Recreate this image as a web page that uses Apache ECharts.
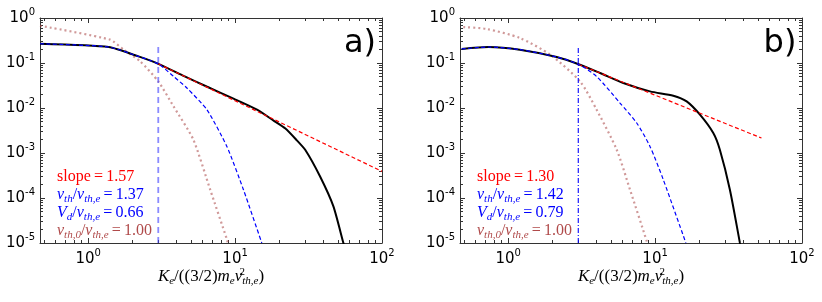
<!DOCTYPE html>
<html><head><meta charset="utf-8">
<script src="https://cdn.jsdelivr.net/npm/echarts@6/dist/echarts.min.js"></script>
<style>html,body{margin:0;padding:0;background:#fff;}#c{width:822px;height:302px;}</style>
</head><body><div id="c"></div>
<script>
// ---- data ----
const xRange = [0.47, 100];
const yRange = [1e-5, 1];
const panelTags = ['a)', 'b)'];

// panel a
const aBlack = [[0.47,0.268],[1.38,0.227],[2.2,0.14],[3.0,0.096],[4.5,0.051],[6.4,0.03],[9.76,0.0161],[14.1,0.00917],[18.2,0.0053],[22,0.0035],[26,0.002],[30,0.00118],[37.9,3.0e-4],[46.7,6.5e-5],[54.6,1e-5],[58,5e-6]];
const aBlue = [[0.47,0.268],[1.38,0.227],[2.2,0.14],[3.0,0.096],[3.81,0.0504],[4.7,0.0278],[6.43,0.00917],[8.79,0.0014],[11.4,1.53e-4],[15.2,1e-5]];
const aBrown = [[0.47,0.674],[1.41,0.33],[1.74,0.198],[2.26,0.109],[3.0,0.039],[3.81,0.0109],[5.2,0.00198],[6.77,1.53e-4],[8.8,1.2e-5],[9.0,9e-6]];
const aRed = [[3.0,0.096],[100,3.9e-4]];
const aVert = [[3,1e-5],[3,0.234]];
const aText = ['1.57','1.37','0.66','1.00'];

// panel b
const bBlack = [[0.483,0.205],[0.733,0.227],[1.2,0.198],[2.14,0.136],[3.08,0.0917],[4.22,0.06],[6.08,0.036],[9.23,0.0234],[13.3,0.0188],[16.4,0.014],[20.2,0.0071],[24.9,0.00278],[27.6,0.00118],[32.3,1.53e-4],[37.8,1e-5],[39,6e-6]];
const bBlue = [[0.483,0.205],[0.733,0.227],[1.2,0.198],[2.14,0.136],[3.0,0.094],[4.0,0.05],[5.77,0.0129],[7.5,0.00464],[9.23,0.0014],[11.35,2.6e-4],[16.2,1e-5]];
const bBrown = [[0.495,0.63],[0.714,0.57],[1.2,0.36],[1.93,0.153],[3.08,0.039],[4.0,0.00917],[5.48,0.00118],[6.75,1.53e-4],[8.77,1.1e-5],[9.0,8e-6]];
const bRed = [[3.0,0.094],[53,0.00215]];
const bVert = [[3,1e-5],[3,0.234]];
const bText = ['1.30','1.42','0.79','1.00'];

// ---- styling ----
const RED = '#ff0000', BLUE = '#0000ff', BROWN_TXT = '#b04a4a', BROWN_LINE = 'rgba(170,70,70,0.55)';
const grids = [{left:40, top:18, width:342, height:225}, {left:460, top:18, width:342, height:225}];
const axisColor = '#333';

function powLabel(v) {
  const l = Math.log10(v), e = Math.round(l);
  if (Math.abs(l - e) > 1e-6) return '';
  return '{b|10}{s|' + e + '}';
}
const labelRich = {
  b: {fontFamily:'DejaVu Sans', fontSize:15, color:'#000'},
  s: {fontFamily:'DejaVu Sans', fontSize:10, color:'#000', padding:[0,0,12,0]}
};

function mkAxis(dim, g, pos, showLabel) {
  const r = dim === 'x' ? xRange : yRange;
  return {
    gridIndex: g, type: 'log', logBase: 10, min: r[0], max: r[1], position: pos,
    axisLine: {show: true, onZero: false, lineStyle: {color: axisColor, width: 1}},
    axisTick: {show: true, inside: true, length: 5, lineStyle: {color: axisColor, width: 1}},
    minorTick: {show: true, splitNumber: 9, length: 3, lineStyle: {color: axisColor, width: 1}},
    splitLine: {show: false}, minorSplitLine: {show: false},
    axisLabel: {show: showLabel, formatter: powLabel, rich: labelRich, margin: 5,
                showMinLabel: true, showMaxLabel: true}
  };
}

const xAxes = [], yAxes = [];
for (let g = 0; g < 2; g++) {
  xAxes.push(mkAxis('x', g, 'bottom', true));
  xAxes.push(mkAxis('x', g, 'top', false));
  yAxes.push(mkAxis('y', g, 'left', true));
  yAxes.push(mkAxis('y', g, 'right', false));
}

function line(data, g, color, width, type, z, smooth) {
  return {type: 'line', data: data, xAxisIndex: g * 2, yAxisIndex: g * 2, symbol: 'none',
          clip: true, smooth: smooth || false, z: z || 2, silent: true, animation: false,
          lineStyle: {color: color, width: width, type: type}};
}

const series = [
  line(aBrown, 0, BROWN_LINE, 2.2, [2, 3], 2, 0.2),
  line(aVert, 0, 'rgba(60,60,255,0.6)', 1.8, [6, 4], 2),
  line(aBlack, 0, '#000', 2, 'solid', 3, 0.2),
  line(aRed, 0, RED, 1.2, [4, 2.5], 4),
  line(aBlue, 0, BLUE, 1.2, [4, 2.5], 4, 0.2),
  line(bBrown, 1, BROWN_LINE, 2.2, [2, 3], 2, 0.25),
  line(bVert, 1, BLUE, 1.1, [5, 2, 1, 2], 2),
  line(bBlack, 1, '#000', 2, 'solid', 3, 0.25),
  line(bRed, 1, RED, 1.2, [4, 2.5], 4),
  line(bBlue, 1, BLUE, 1.2, [4, 2.5], 4, 0.25)
];

const serif = 'Liberation Serif';
const txtRich = function (color, size) {
  const s = size || 16;
  return {
    r: {fontFamily: serif, fontSize: s, fill: color},
    i: {fontFamily: serif, fontStyle: 'italic', fontSize: s, fill: color},
    sub: {fontFamily: serif, fontStyle: 'italic', fontSize: 11, fill: color, padding: [8, 0, 0, 0]},
    sup: {fontFamily: serif, fontSize: 11, fill: color, padding: [0, 0, 10, 0], width: 0}
  };
};

const graphics = [];
const ysText = [177, 195, 213, 231];
[aText, bText].forEach(function (t, g) {
  const x0 = grids[g].left + 17;
  const lines = [
    ['{r|slope\u2009=\u2009' + t[0] + '}', RED],
    ['{i|v}{sub|th}{r|/}{i|v}{sub|th,e}{r|\u2009=\u2009' + t[1] + '}', BLUE],
    ['{i|V}{sub|d}{r|/}{i|v}{sub|th,e}{r|\u2009=\u2009' + t[2] + '}', BLUE],
    ['{i|v}{sub|th,0}{r|/}{i|v}{sub|th,e}{r|\u2009=\u2009' + t[3] + '}', BROWN_TXT]
  ];
  lines.forEach(function (ln, k) {
    graphics.push({type: 'text', x: x0, y: ysText[k], silent: true,
      style: {text: ln[0], rich: txtRich(ln[1]), fill: ln[1], align: 'left', verticalAlign: 'middle'}});
  });
  graphics.push({type: 'text', x: grids[g].left + 320, y: 44, silent: true,
    style: {text: panelTags[g], fontFamily: 'DejaVu Sans', fontSize: 32, fill: '#000', align: 'center', verticalAlign: 'middle'}});
  graphics.push({type: 'text', x: grids[g].left + 171, y: 277, silent: true,
    style: {text: '{i|K}{sub|e}{r|/((3/2)}{i|m}{sub|e}{i|v}{sup|2}{sub|th,e}{r|)}', rich: txtRich('#000', 17), fill: '#000',
            align: 'center', verticalAlign: 'middle'}});
});

const chart = echarts.init(document.getElementById('c'), null, {renderer: 'canvas'});
chart.setOption({
  animation: false,
  backgroundColor: '#fff',
  grid: grids,
  xAxis: xAxes,
  yAxis: yAxes,
  series: series,
  graphic: graphics
});
</script>
</body></html>
